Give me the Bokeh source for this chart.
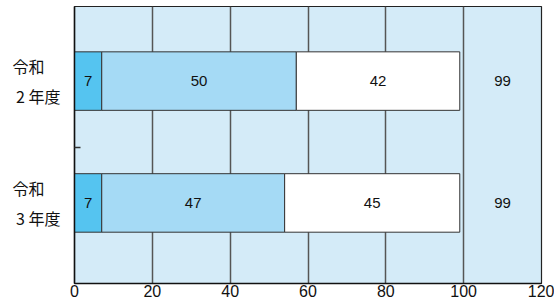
from bokeh.plotting import figure
from bokeh.models import Range1d, FixedTicker
from bokeh.core.properties import value
from bokeh.embed import file_html
from bokeh.resources import INLINE

# ---- data ----
years = ["令和\u3000\n2 年度", "令和\u3000\n3 年度"]
seg_a = [7, 7]      # first (dark blue) segment
seg_b = [50, 47]    # second (light blue) segment
seg_c = [42, 45]    # third (white) segment
totals = [99, 99]
x_ticks = [0, 20, 40, 60, 80, 100, 120]

# category positions (2年度 on top)
ypos = [1, 0]
bar_h = 0.48

FONT = "Liberation Sans"
JFONT = "Noto Sans CJK JP"

p = figure(width=554, height=300,
           x_range=Range1d(0, 120), y_range=Range1d(-0.661, 1.612),
           output_backend="svg", toolbar_location=None,
           min_border_left=74, min_border_right=13, min_border_top=6,
           min_border_bottom=17)

p.background_fill_color = "#d4ebf8"
p.border_fill_color = "white"
p.outline_line_color = "#222222"
p.outline_line_width = 1.2

# grid
p.xgrid.ticker = FixedTicker(ticks=x_ticks)
p.xgrid.grid_line_color = "#555555"
p.xgrid.grid_line_width = 1.5
p.ygrid.grid_line_color = None

# stacked bars
left_a = [0, 0]
right_a = [a for a in seg_a]
left_b = right_a
right_b = [a + b for a, b in zip(seg_a, seg_b)]
left_c = right_b
right_c = [a + b + c for a, b, c in zip(seg_a, seg_b, seg_c)]

p.hbar(y=ypos, left=left_a, right=right_a, height=bar_h,
       fill_color="#55c4f0", line_color="#333333", line_width=1)
p.hbar(y=ypos, left=left_b, right=right_b, height=bar_h,
       fill_color="#a5daf5", line_color="#333333", line_width=1)
p.hbar(y=ypos, left=left_c, right=right_c, height=bar_h,
       fill_color="#ffffff", line_color="#333333", line_width=1)

# segment value labels
xs, ys, ts = [], [], []
for i in range(len(ypos)):
    xs += [(left_a[i] + right_a[i]) / 2, (left_b[i] + right_b[i]) / 2,
           (left_c[i] + right_c[i]) / 2, 110]
    ys += [ypos[i]] * 4
    ts += [str(seg_a[i]), str(seg_b[i]), str(seg_c[i]), str(totals[i])]
p.text(x=xs, y=ys, text=ts, text_align="center", text_baseline="middle",
       text_font=value(FONT), text_font_size="15px", text_color="#111111")

# axes
p.xaxis.ticker = FixedTicker(ticks=x_ticks)
p.xaxis.major_tick_line_color = None
p.xaxis.major_tick_out = 0
p.xaxis.minor_tick_line_color = None
p.xaxis.axis_line_color = "#111111"
p.xaxis.axis_line_width = 1.5
p.xaxis.major_label_text_font = FONT
p.xaxis.major_label_text_font_size = "16px"
p.xaxis.major_label_text_color = "#111111"
p.xaxis.major_label_standoff = 1

p.yaxis.ticker = FixedTicker(ticks=ypos, minor_ticks=[0.455])
p.yaxis.major_label_overrides = {ypos[i]: years[i] for i in range(len(ypos))}
p.yaxis.major_label_text_font = JFONT
p.yaxis.major_label_text_font_size = "16px"
p.yaxis.major_label_text_color = "#111111"
p.yaxis.major_label_standoff = 14
p.yaxis.major_label_text_line_height = 1.25
p.yaxis.major_tick_line_color = None
p.yaxis.major_tick_in = 0
p.yaxis.major_tick_out = 0
p.yaxis.minor_tick_in = 6
p.yaxis.minor_tick_out = 0
p.yaxis.minor_tick_line_color = "#333333"
p.yaxis.minor_tick_line_width = 1.5
p.yaxis.axis_line_color = "#111111"
p.yaxis.axis_line_width = 1.5

open("out.html", "w").write(file_html(p, INLINE))
